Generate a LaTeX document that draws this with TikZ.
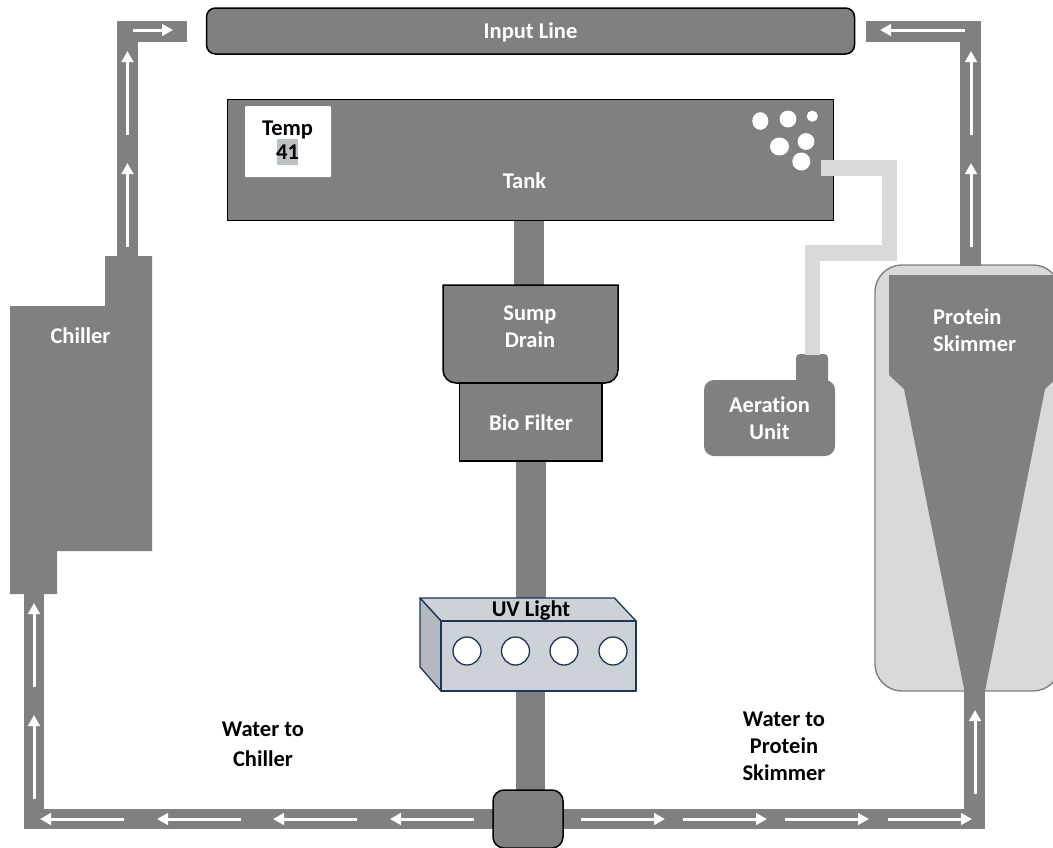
\documentclass[tikz,border=0pt]{standalone}
\usepackage{fontspec}
\setmainfont{Carlito}[Ligatures=CommonOff]
\usetikzlibrary{arrows.meta}
\definecolor{pipegray}{HTML}{808080}
\definecolor{lightpipe}{HTML}{D9D9D9}
\definecolor{uvfront}{HTML}{CDD2D9}
\definecolor{uvside}{HTML}{B4B9BF}
\definecolor{uvline}{HTML}{1F3555}
\tikzset{
  pipe/.style={draw=pipegray,line width=21pt,line cap=butt,line join=miter},
  airpipe/.style={draw=lightpipe,line width=15.5pt,line cap=butt,line join=miter},
  unit/.style={fill=pipegray,draw=black,line width=1.5pt},
  solid gray/.style={fill=pipegray},
  label/.style={font=\fontsize{22.5}{27}\selectfont\bfseries,align=center,inner sep=0pt},
  wlabel/.style={label,text=white},
  flowline/.style={draw=white,line width=3pt,-{Triangle[length=11pt,width=11.5pt]},shorten >=0pt},
  bubble/.style={fill=white},
  uv/.style={draw=uvline,line width=1.3pt,line join=round},
  lamp/.style={circle,draw=uvline,fill=white,line width=1.3pt,minimum size=28pt,inner sep=0pt},
}
\newcommand{\flowarrow}[3]{\coordinate (#1a) at (#2); \coordinate (#1b) at (#3); \draw[flowline] (#1a) -- (#1b);}
\begin{document}
\begin{tikzpicture}[x=1pt,y=-1pt]
\useasboundingbox (0,0) rectangle (1053,847);
\clip (0,0) rectangle (1053,847);
\fill[white] (0,0) rectangle (1053,847);

% skimmer
\draw[fill=lightpipe,draw=pipegray,line width=1.4pt,rounded corners=27pt] (875,265) rectangle (1060,691);
\fill[pipegray] (889,275) -- (1060,275) -- (1060,375) -- (1045,389) -- (985,691) -- (964.5,691) -- (904,389) -- (889,375) -- cycle;

% coordinates of the water loop
\coordinate (chillerout) at (127.5,258);
\coordinate (tlcorner) at (127.5,31);
\coordinate (tlend) at (187,31);
\coordinate (skimout) at (970.5,266);
\coordinate (trcorner) at (970.5,31);
\coordinate (trend) at (866,31);
\coordinate (chillerin) at (33.8,590);
\coordinate (blcorner) at (33.8,819);
\coordinate (brcorner) at (974.5,819);
\coordinate (skimin) at (974.5,690);
\coordinate (tankout) at (529,221);
\coordinate (sumpin) at (529,286);
\coordinate (bioout) at (531,460);
\coordinate (uvin) at (531,600);
\coordinate (uvout) at (530.5,690);
\coordinate (pumpin) at (530.5,792);

\draw[pipe] (chillerout) -- (tlcorner) -- (tlend);
\draw[pipe] (skimout) -- (trcorner) -- (trend);
\draw[pipe,line width=20.5pt] (chillerin) -- (blcorner) -- (brcorner) -- (skimin);
\draw[pipe,line width=30pt] (tankout) -- (sumpin);
\draw[pipe,line width=30pt] (bioout) -- (uvin);
\draw[pipe,line width=29pt] (uvout) -- (pumpin);

% chiller
\fill[pipegray] (105,256) -- (152,256) -- (152,551) -- (57,551) -- (57,594) -- (10,594) -- (10,306) -- (105,306) -- cycle;
\node[wlabel] (chiller) at (80.5,336) {Chiller};

% input line
\node[unit,rounded corners=9pt,minimum width=648pt,minimum height=46pt,inner sep=0pt] (input) at (530.5,31) {};
\node[wlabel] (inputlabel) at (530.5,32) {Input Line};

% tank
\node[unit,rectangle,minimum width=606pt,minimum height=121pt,inner sep=0pt] (tank) at (530.5,160) {};
\node[wlabel] (tanklabel) at (524.5,180.5) {Tank};
\node[fill=white,minimum width=86pt,minimum height=71pt,inner sep=0pt,rounded corners=1pt] (tempbox) at (288,141.5) {};
\node[fill=uvside!90!white,minimum width=21pt,minimum height=26pt,inner sep=0pt] (temphl) at (287.5,152) {};
\node[label] (temptitle) at (287.5,129.5) {Temp};
\node[label] (tempval) at (287.5,152.5) {41};
\fill[bubble] (760.3,121) ellipse (8pt and 8.8pt);
\fill[bubble] (788,119) circle (8.4pt);
\fill[bubble] (812.3,116.2) circle (5.6pt);
\fill[bubble] (779.5,146.5) ellipse (9.5pt and 9pt);
\fill[bubble] (806,141.5) circle (8.4pt);
\fill[bubble] (801.3,161.5) circle (9pt);

% aeration pipe
\coordinate (airin) at (821,168);
\coordinate (aira) at (889.5,168);
\coordinate (airb) at (889.5,253);
\coordinate (airc) at (812.5,253);
\coordinate (aird) at (812.5,356);
\coordinate (airtop) at (812.5,245);
\draw[airpipe] (airin) -- (aira) -- (airb) -- (airc) -- (aird);
\draw[airpipe,line width=15pt] (airc) -- (airtop);

% aeration unit
\fill[pipegray,rounded corners=4pt] (796,354) rectangle (828,392);
\draw[lightpipe,line width=15pt] (812.5,345) -- (812.5,355);
\node[solid gray,rounded corners=10pt,minimum width=131pt,minimum height=76pt,inner sep=0pt] (aeration) at (769.5,418) {};
\node[wlabel] (aerlabel) at (769.5,418.5) {Aeration\\Unit};

% sump and filter
\draw[unit] (443,285) -- (618,285) [rounded corners=13pt] -- (618,383) -- (443,383) [sharp corners] -- cycle;
\node[wlabel] (sumplabel) at (530,326.5) {Sump\\Drain};
\node[unit,rectangle,minimum width=142.5pt,minimum height=78pt,inner sep=0pt] (bio) at (530.8,422) {};
\node[wlabel] (biolabel) at (531,422.5) {Bio Filter};

% UV light
\draw[uv,fill=uvfront] (420,598) -- (614.5,598) -- (636,621) -- (441,621) -- cycle;
\draw[uv,fill=uvside] (420,598) -- (441,621) -- (441,691) -- (420,667) -- cycle;
\node[uv,fill=uvfront,rectangle,minimum width=195pt,minimum height=70pt,inner sep=0pt] (uvbox) at (538.5,656) {};
\node[label,text=black] (uvlabel) at (531,611) {UV Light};
\node[lamp] (lamp1) at (467,651) {};
\node[lamp] (lamp2) at (515.5,651) {};
\node[lamp] (lamp3) at (564,651) {};
\node[lamp] (lamp4) at (613,651) {};

% pump
\node[unit,rounded corners=11pt,minimum width=70pt,minimum height=58pt,inner sep=0pt] (pump) at (528,819) {};

% flow arrows
\flowarrow{f1}{133,30}{173,30}
\flowarrow{f2}{127.5,135}{127.5,51}
\flowarrow{f3}{127.5,247}{127.5,163}
\flowarrow{f4}{965,30}{880,30}
\flowarrow{f5}{971,135}{971,51}
\flowarrow{f6}{971,247}{971,163}
\flowarrow{f7}{34,799}{34,715}
\flowarrow{f8}{34,687}{34,603}
\flowarrow{f9}{124,819}{40,819}
\flowarrow{f10}{241,819}{157,819}
\flowarrow{f11}{357,819}{273,819}
\flowarrow{f12}{474,819}{390,819}
\flowarrow{f13}{581,819}{665,819}
\flowarrow{f14}{683,819}{767,819}
\flowarrow{f15}{785,819}{869,819}
\flowarrow{f16}{888,819}{972,819}
\flowarrow{f17}{975,794}{975,710}

% labels
\node[wlabel,align=left,anchor=west] (skimlabel) at (933,330) {Protein\\Skimmer};
\node[label] (tochiller) at (263,744.5) {Water to\\[3pt]Chiller};
\node[label] (toskimmer) at (784,746) {Water to\\Protein\\Skimmer};
\end{tikzpicture}
\end{document}
